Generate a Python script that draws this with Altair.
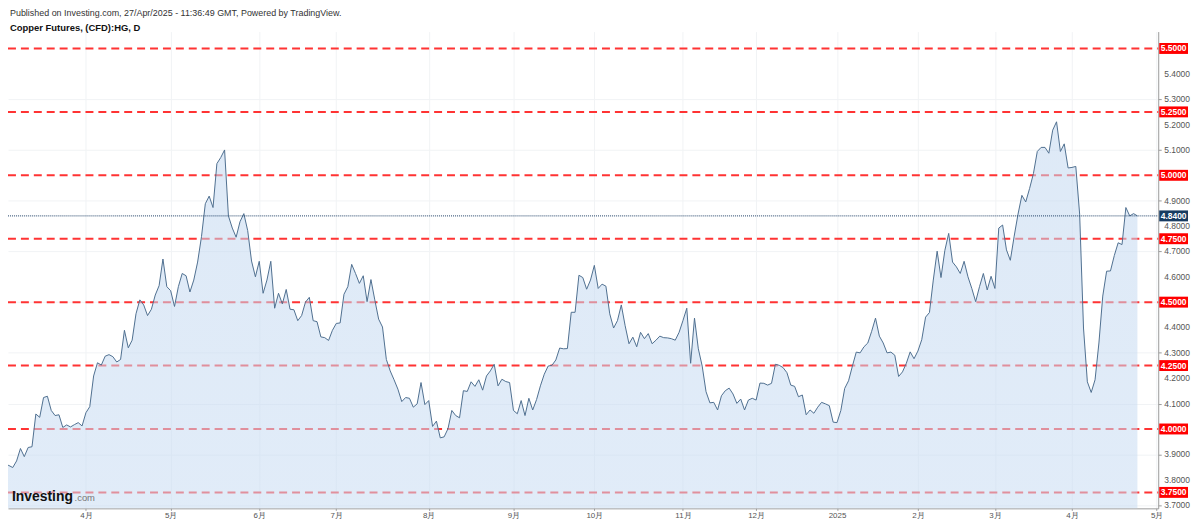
import altair as alt
import pandas as pd

# Daily closes (trading-day sequence)
closes = [
    3.861, 3.856, 3.848, 3.874, 3.923, 3.891, 3.927, 3.930, 4.059, 4.046,
    4.124, 4.129, 4.073, 4.053, 4.056, 4.006, 4.016, 4.008, 4.017, 4.025,
    4.012, 4.064, 4.088, 4.209, 4.261, 4.252, 4.287, 4.293, 4.285, 4.264,
    4.274, 4.389, 4.320, 4.350, 4.454, 4.509, 4.489, 4.447, 4.472, 4.528,
    4.565, 4.670, 4.561, 4.545, 4.483, 4.561, 4.613, 4.604, 4.540, 4.587,
    4.658, 4.758, 4.888, 4.918, 4.873, 5.046, 5.070, 5.100, 4.840, 4.792,
    4.756, 4.817, 4.849, 4.782, 4.662, 4.600, 4.661, 4.535, 4.587, 4.661,
    4.476, 4.535, 4.493, 4.550, 4.472, 4.470, 4.427, 4.447, 4.500, 4.519,
    4.427, 4.423, 4.363, 4.360, 4.349, 4.389, 4.416, 4.418, 4.531, 4.561,
    4.649, 4.613, 4.574, 4.604, 4.502, 4.589, 4.509, 4.433, 4.402, 4.274,
    4.229, 4.194, 4.157, 4.108, 4.124, 4.121, 4.086, 4.099, 4.183, 4.096,
    4.112, 4.010, 4.031, 3.965, 3.969, 4.001, 4.073, 4.053, 4.044, 4.151,
    4.148, 4.186, 4.168, 4.194, 4.153, 4.209, 4.229, 4.255, 4.170, 4.196,
    4.187, 4.183, 4.073, 4.060, 4.112, 4.053, 4.121, 4.075, 4.116, 4.170,
    4.216, 4.248, 4.251, 4.272, 4.319, 4.316, 4.317, 4.460, 4.460, 4.606,
    4.597, 4.551, 4.587, 4.645, 4.554, 4.571, 4.563, 4.454, 4.398, 4.427,
    4.489, 4.407, 4.336, 4.362, 4.324, 4.381, 4.356, 4.376, 4.336, 4.350,
    4.366, 4.360, 4.359, 4.356, 4.350, 4.381, 4.427, 4.476, 4.259, 4.437,
    4.316, 4.248, 4.147, 4.103, 4.105, 4.075, 4.131, 4.151, 4.161, 4.138,
    4.101, 4.118, 4.075, 4.114, 4.121, 4.114, 4.181, 4.180, 4.173, 4.180,
    4.255, 4.251, 4.242, 4.222, 4.173, 4.168, 4.127, 4.134, 4.056, 4.075,
    4.062, 4.086, 4.105, 4.099, 4.092, 4.027, 4.025, 4.073, 4.160, 4.190,
    4.248, 4.303, 4.300, 4.324, 4.339, 4.385, 4.437, 4.366, 4.339, 4.300,
    4.303, 4.291, 4.207, 4.225, 4.259, 4.304, 4.277, 4.307, 4.352, 4.441,
    4.459, 4.587, 4.701, 4.597, 4.704, 4.771, 4.658, 4.639, 4.613, 4.661,
    4.600, 4.554, 4.502, 4.561, 4.613, 4.548, 4.602, 4.554, 4.792, 4.804,
    4.706, 4.665, 4.760, 4.847, 4.921, 4.895, 4.948, 5.007, 5.094, 5.110,
    5.110, 5.087, 5.178, 5.211, 5.094, 5.124, 5.029, 5.031, 5.035, 4.847,
    4.398, 4.186, 4.144, 4.194, 4.339, 4.524, 4.622, 4.623, 4.684, 4.734,
    4.727, 4.873, 4.840, 4.849, 4.840,
]

month_labels = ["4月", "5月", "6月", "7月", "8月", "9月", "10月", "11月", "12月",
                "2025", "2月", "3月", "4月", "5月"]
month_index = [21, 43, 66, 86, 110, 132, 153, 176, 195, 216, 237, 257, 277, 299]

levels = [3.75, 4.0, 4.25, 4.5, 4.75, 5.0, 5.25, 5.5]
last_price = [4.84]
grid_values = [3.7, 3.8, 3.9, 4.0, 4.1, 4.2, 4.3, 4.4, 4.5, 4.6, 4.7, 4.8,
               4.9, 5.0, 5.1, 5.2, 5.3, 5.4]
hidden_labels = [4.0, 4.5, 5.0]

header = "Published on Investing.com, 27/Apr/2025 - 11:36:49 GMT, Powered by TradingView."
subheader = "Copper Futures, (CFD):HG, D"

W, H = 1158, 480
X_DOMAIN = [0.77, 299.4]
Y_DOMAIN = [3.6871, 5.5666]
BOX_HALF = 5.5 / 255.4
FONT = "Liberation Sans"

df = pd.DataFrame({"i": list(range(len(closes))), "close": closes})
lv = pd.DataFrame({"level": levels})
lp = pd.DataFrame({"level": last_price})
ylab = pd.DataFrame({"v": [g for g in grid_values if g not in hidden_labels]})

xs = alt.Scale(domain=X_DOMAIN, nice=False, zero=False)
ys = alt.Scale(domain=Y_DOMAIN, nice=False, zero=False)

lab_arr = "[" + ",".join("'" + m + "'" for m in month_labels) + "]"
idx_arr = "[" + ",".join(str(v) for v in month_index) + "]"

x_axis = alt.Axis(
    values=month_index,
    labelExpr=f"{lab_arr}[indexof({idx_arr}, datum.value)]",
    grid=True, gridColor="#f1f3f5", gridWidth=1,
    domainColor="#9a9a9a", tickColor="#9a9a9a", tickSize=2,
    labelColor="#555555", labelFont=FONT, labelFontSize=8,
    labelPadding=1, labelOverlap=False, title=None,
)
y_axis = alt.Axis(
    orient="right", values=grid_values, labels=False,
    grid=True, gridColor="#f1f3f5", gridWidth=1,
    domainColor="#9a9a9a", tickColor="#9a9a9a", tickSize=3, title=None,
)

base = alt.Chart(df)

# red dashed support/resistance lines, drawn under the area so they look faded inside it
red_rules = alt.Chart(lv).mark_rule(color="#ff3333", strokeWidth=2, strokeDash=[8, 5]).encode(
    y=alt.Y("level:Q", scale=ys, axis=y_axis),
    x=alt.value(0), x2=alt.value(W),
)

area = base.mark_area(
    color=alt.Gradient(
        gradient="linear",
        stops=[alt.GradientStop(color="#c3d8f0", offset=0),
               alt.GradientStop(color="#d5e6f9", offset=1)],
        x1=1, x2=1, y1=0, y2=1,
    ),
    opacity=0.55, clip=True,
).encode(
    x=alt.X("i:Q", scale=xs, axis=x_axis),
    y=alt.Y("close:Q", scale=ys, axis=y_axis),
    y2=alt.value(H),
)

line = base.mark_line(color="#4f6f8f", strokeWidth=1, clip=True).encode(
    x=alt.X("i:Q", scale=xs),
    y=alt.Y("close:Q", scale=ys),
)

ylabels = alt.Chart(ylab).mark_text(
    font=FONT, fontSize=8.5, color="#555555", align="left", baseline="middle"
).encode(
    y=alt.Y("v:Q", scale=ys), x=alt.value(W + 6),
    text=alt.Text("v:Q", format=".4f"),
)

last_rule = alt.Chart(lp).mark_rule(color="#1e3f66", strokeWidth=1, strokeDash=[1, 1]).encode(
    y=alt.Y("level:Q", scale=ys), x=alt.value(0), x2=alt.value(W),
)

red_boxes = alt.Chart(lv).transform_calculate(
    lo=f"datum.level - {BOX_HALF}", hi=f"datum.level + {BOX_HALF}"
).mark_rect(color="#ff0000").encode(
    y=alt.Y("lo:Q", scale=ys), y2="hi:Q",
    x=alt.value(W + 1), x2=alt.value(W + 30),
)
red_text = alt.Chart(lv).mark_text(
    color="white", font=FONT, fontSize=8.5, fontWeight="bold", align="center", baseline="middle"
).encode(
    y=alt.Y("level:Q", scale=ys), x=alt.value(W + 15.5),
    text=alt.Text("level:Q", format=".4f"),
)

last_box = alt.Chart(lp).transform_calculate(
    lo=f"datum.level - {BOX_HALF}", hi=f"datum.level + {BOX_HALF}"
).mark_rect(color="#173b61").encode(
    y=alt.Y("lo:Q", scale=ys), y2="hi:Q",
    x=alt.value(W + 1), x2=alt.value(W + 30),
)
last_text = alt.Chart(lp).mark_text(
    color="white", font=FONT, fontSize=8.5, fontWeight="bold", align="center", baseline="middle"
).encode(
    y=alt.Y("level:Q", scale=ys), x=alt.value(W + 15.5),
    text=alt.Text("level:Q", format=".4f"),
)

title1 = alt.Chart(pd.DataFrame({"t": [header]})).mark_text(
    font=FONT, fontSize=9, color="#333333", align="left", baseline="middle"
).encode(text="t:N", x=alt.value(2), y=alt.value(-19))
title2 = alt.Chart(pd.DataFrame({"t": [subheader]})).mark_text(
    font=FONT, fontSize=9.5, fontWeight="bold", color="#111111", align="left", baseline="middle"
).encode(text="t:N", x=alt.value(2), y=alt.value(-4))

logo1 = alt.Chart(pd.DataFrame({"t": ["Investing"]})).mark_text(
    font=FONT, fontSize=14, fontWeight="bold", color="#111111", align="left", baseline="alphabetic"
).encode(text="t:N", x=alt.value(4), y=alt.value(473))
logo2 = alt.Chart(pd.DataFrame({"t": [".com"]})).mark_text(
    font=FONT, fontSize=9.5, color="#777777", align="left", baseline="alphabetic"
).encode(text="t:N", x=alt.value(67), y=alt.value(473))

chart = alt.layer(
    red_rules, area, line, ylabels, last_rule, red_boxes, red_text, last_box, last_text,
    title1, title2, logo1, logo2,
).properties(
    width=W, height=H,
    autosize=alt.AutoSizeParams(type="none"),
    padding={"left": 0, "top": 22, "right": 34, "bottom": 12},
    background="white",
).configure_view(stroke=None)

chart.save("out.html", embed_options={"renderer": "svg", "actions": False})
